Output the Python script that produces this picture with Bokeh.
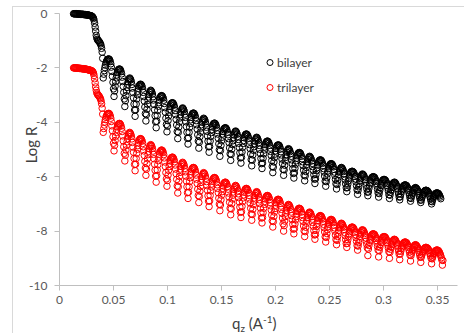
from bokeh.plotting import figure
from bokeh.models import Legend, LegendItem, FixedTicker, Range1d, Div
from bokeh.layouts import column
from bokeh.embed import file_html
from bokeh.resources import INLINE

# scattering vector q_z (A^-1)
q = [0.0130, 0.0135, 0.0140, 0.0145, 0.0150, 0.0155, 0.0160, 0.0165, 0.0170, 0.0175,
     0.0180, 0.0185, 0.0190, 0.0195, 0.0200, 0.0205, 0.0210, 0.0215, 0.0220, 0.0225,
     0.0230, 0.0235, 0.0240, 0.0245, 0.0250, 0.0255, 0.0260, 0.0265, 0.0270, 0.0275,
     0.0280, 0.0285, 0.0290, 0.0295, 0.0300, 0.0305, 0.0310, 0.0315, 0.0320, 0.0325,
     0.0330, 0.0335, 0.0340, 0.0345, 0.0350, 0.0355, 0.0360, 0.0365, 0.0370, 0.0375,
     0.0380, 0.0385, 0.0390, 0.0395, 0.0400, 0.0405, 0.0410, 0.0415, 0.0420, 0.0425,
     0.0430, 0.0435, 0.0440, 0.0445, 0.0450, 0.0455, 0.0460, 0.0465, 0.0470, 0.0475,
     0.0480, 0.0485, 0.0490, 0.0495, 0.0500, 0.0505, 0.0510, 0.0515, 0.0520, 0.0525,
     0.0530, 0.0535, 0.0540, 0.0545, 0.0550, 0.0555, 0.0560, 0.0565, 0.0570, 0.0575,
     0.0580, 0.0585, 0.0590, 0.0595, 0.0600, 0.0605, 0.0610, 0.0615, 0.0620, 0.0625,
     0.0630, 0.0635, 0.0640, 0.0645, 0.0650, 0.0655, 0.0660, 0.0665, 0.0670, 0.0675,
     0.0680, 0.0685, 0.0690, 0.0695, 0.0700, 0.0705, 0.0710, 0.0715, 0.0720, 0.0725,
     0.0730, 0.0735, 0.0740, 0.0745, 0.0750, 0.0755, 0.0760, 0.0765, 0.0770, 0.0775,
     0.0780, 0.0785, 0.0790, 0.0795, 0.0800, 0.0805, 0.0810, 0.0815, 0.0820, 0.0825,
     0.0830, 0.0835, 0.0840, 0.0845, 0.0850, 0.0855, 0.0860, 0.0865, 0.0870, 0.0875,
     0.0880, 0.0885, 0.0890, 0.0895, 0.0900, 0.0905, 0.0910, 0.0915, 0.0920, 0.0925,
     0.0930, 0.0935, 0.0940, 0.0945, 0.0950, 0.0955, 0.0960, 0.0965, 0.0970, 0.0975,
     0.0980, 0.0985, 0.0990, 0.0995, 0.1000, 0.1005, 0.1010, 0.1015, 0.1020, 0.1025,
     0.1030, 0.1035, 0.1040, 0.1045, 0.1050, 0.1055, 0.1060, 0.1065, 0.1070, 0.1075,
     0.1080, 0.1085, 0.1090, 0.1095, 0.1100, 0.1105, 0.1110, 0.1115, 0.1120, 0.1125,
     0.1130, 0.1135, 0.1140, 0.1145, 0.1150, 0.1155, 0.1160, 0.1165, 0.1170, 0.1175,
     0.1180, 0.1185, 0.1190, 0.1195, 0.1200, 0.1205, 0.1210, 0.1215, 0.1220, 0.1225,
     0.1230, 0.1235, 0.1240, 0.1245, 0.1250, 0.1255, 0.1260, 0.1265, 0.1270, 0.1275,
     0.1280, 0.1285, 0.1290, 0.1295, 0.1300, 0.1305, 0.1310, 0.1315, 0.1320, 0.1325,
     0.1330, 0.1335, 0.1340, 0.1345, 0.1350, 0.1355, 0.1360, 0.1365, 0.1370, 0.1375,
     0.1380, 0.1385, 0.1390, 0.1395, 0.1400, 0.1405, 0.1410, 0.1415, 0.1420, 0.1425,
     0.1430, 0.1435, 0.1440, 0.1445, 0.1450, 0.1455, 0.1460, 0.1465, 0.1470, 0.1475,
     0.1480, 0.1485, 0.1490, 0.1495, 0.1500, 0.1505, 0.1510, 0.1515, 0.1520, 0.1525,
     0.1530, 0.1535, 0.1540, 0.1545, 0.1550, 0.1555, 0.1560, 0.1565, 0.1570, 0.1575,
     0.1580, 0.1585, 0.1590, 0.1595, 0.1600, 0.1605, 0.1610, 0.1615, 0.1620, 0.1625,
     0.1630, 0.1635, 0.1640, 0.1645, 0.1650, 0.1655, 0.1660, 0.1665, 0.1670, 0.1675,
     0.1680, 0.1685, 0.1690, 0.1695, 0.1700, 0.1705, 0.1710, 0.1715, 0.1720, 0.1725,
     0.1730, 0.1735, 0.1740, 0.1745, 0.1750, 0.1755, 0.1760, 0.1765, 0.1770, 0.1775,
     0.1780, 0.1785, 0.1790, 0.1795, 0.1800, 0.1805, 0.1810, 0.1815, 0.1820, 0.1825,
     0.1830, 0.1835, 0.1840, 0.1845, 0.1850, 0.1855, 0.1860, 0.1865, 0.1870, 0.1875,
     0.1880, 0.1885, 0.1890, 0.1895, 0.1900, 0.1905, 0.1910, 0.1915, 0.1920, 0.1925,
     0.1930, 0.1935, 0.1940, 0.1945, 0.1950, 0.1955, 0.1960, 0.1965, 0.1970, 0.1975,
     0.1980, 0.1985, 0.1990, 0.1995, 0.2000, 0.2005, 0.2010, 0.2015, 0.2020, 0.2025,
     0.2030, 0.2035, 0.2040, 0.2045, 0.2050, 0.2055, 0.2060, 0.2065, 0.2070, 0.2075,
     0.2080, 0.2085, 0.2090, 0.2095, 0.2100, 0.2105, 0.2110, 0.2115, 0.2120, 0.2125,
     0.2130, 0.2135, 0.2140, 0.2145, 0.2150, 0.2155, 0.2160, 0.2165, 0.2170, 0.2175,
     0.2180, 0.2185, 0.2190, 0.2195, 0.2200, 0.2205, 0.2210, 0.2215, 0.2220, 0.2225,
     0.2230, 0.2235, 0.2240, 0.2245, 0.2250, 0.2255, 0.2260, 0.2265, 0.2270, 0.2275,
     0.2280, 0.2285, 0.2290, 0.2295, 0.2300, 0.2305, 0.2310, 0.2315, 0.2320, 0.2325,
     0.2330, 0.2335, 0.2340, 0.2345, 0.2350, 0.2355, 0.2360, 0.2365, 0.2370, 0.2375,
     0.2380, 0.2385, 0.2390, 0.2395, 0.2400, 0.2405, 0.2410, 0.2415, 0.2420, 0.2425,
     0.2430, 0.2435, 0.2440, 0.2445, 0.2450, 0.2455, 0.2460, 0.2465, 0.2470, 0.2475,
     0.2480, 0.2485, 0.2490, 0.2495, 0.2500, 0.2505, 0.2510, 0.2515, 0.2520, 0.2525,
     0.2530, 0.2535, 0.2540, 0.2545, 0.2550, 0.2555, 0.2560, 0.2565, 0.2570, 0.2575,
     0.2580, 0.2585, 0.2590, 0.2595, 0.2600, 0.2605, 0.2610, 0.2615, 0.2620, 0.2625,
     0.2630, 0.2635, 0.2640, 0.2645, 0.2650, 0.2655, 0.2660, 0.2665, 0.2670, 0.2675,
     0.2680, 0.2685, 0.2690, 0.2695, 0.2700, 0.2705, 0.2710, 0.2715, 0.2720, 0.2725,
     0.2730, 0.2735, 0.2740, 0.2745, 0.2750, 0.2755, 0.2760, 0.2765, 0.2770, 0.2775,
     0.2780, 0.2785, 0.2790, 0.2795, 0.2800, 0.2805, 0.2810, 0.2815, 0.2820, 0.2825,
     0.2830, 0.2835, 0.2840, 0.2845, 0.2850, 0.2855, 0.2860, 0.2865, 0.2870, 0.2875,
     0.2880, 0.2885, 0.2890, 0.2895, 0.2900, 0.2905, 0.2910, 0.2915, 0.2920, 0.2925,
     0.2930, 0.2935, 0.2940, 0.2945, 0.2950, 0.2955, 0.2960, 0.2965, 0.2970, 0.2975,
     0.2980, 0.2985, 0.2990, 0.2995, 0.3000, 0.3005, 0.3010, 0.3015, 0.3020, 0.3025,
     0.3030, 0.3035, 0.3040, 0.3045, 0.3050, 0.3055, 0.3060, 0.3065, 0.3070, 0.3075,
     0.3080, 0.3085, 0.3090, 0.3095, 0.3100, 0.3105, 0.3110, 0.3115, 0.3120, 0.3125,
     0.3130, 0.3135, 0.3140, 0.3145, 0.3150, 0.3155, 0.3160, 0.3165, 0.3170, 0.3175,
     0.3180, 0.3185, 0.3190, 0.3195, 0.3200, 0.3205, 0.3210, 0.3215, 0.3220, 0.3225,
     0.3230, 0.3235, 0.3240, 0.3245, 0.3250, 0.3255, 0.3260, 0.3265, 0.3270, 0.3275,
     0.3280, 0.3285, 0.3290, 0.3295, 0.3300, 0.3305, 0.3310, 0.3315, 0.3320, 0.3325,
     0.3330, 0.3335, 0.3340, 0.3345, 0.3350, 0.3355, 0.3360, 0.3365, 0.3370, 0.3375,
     0.3380, 0.3385, 0.3390, 0.3395, 0.3400, 0.3405, 0.3410, 0.3415, 0.3420, 0.3425,
     0.3430, 0.3435, 0.3440, 0.3445, 0.3450, 0.3455, 0.3460, 0.3465, 0.3470, 0.3475,
     0.3480, 0.3485, 0.3490, 0.3495, 0.3500, 0.3505, 0.3510, 0.3515, 0.3520, 0.3525,
     0.3530, 0.3535, 0.3540, 0.3545, 0.3550]

logR_bilayer = [
    # below the critical edge
    -0.01, -0.01, -0.01, -0.01, -0.01, -0.01, -0.01, -0.02, -0.02, -0.02,
    -0.02, -0.02, -0.02, -0.03, -0.03, -0.03, -0.03, -0.03, -0.03, -0.04,
    -0.04, -0.04, -0.04, -0.05, -0.05, -0.05, -0.05, -0.06, -0.06, -0.07,
    -0.07, -0.08, -0.08, -0.09, -0.10, -0.12, -0.14, -0.18, -0.25, -0.36,
    -0.50, -0.65, -0.80, -0.89, -0.95, -0.98, -1.00, -1.02, -1.05, -1.08,
    -1.12, -1.18, -1.28, -1.42, -1.65,
    # fringes
    -2.37, -2.23, -2.10, -1.99, -1.90, -1.82, -1.76, -1.72, -1.69, -1.68, -1.67, -1.68, -1.71, -1.77, -1.85, -1.97, -2.13, -2.31, -2.53, -2.77,
    -3.05, -2.85, -2.67, -2.51, -2.37, -2.26, -2.17, -2.11, -2.07, -2.05, -2.04, -2.05, -2.08, -2.14, -2.22, -2.34, -2.50, -2.68, -2.90, -3.14,
    -3.42, -3.21, -3.02, -2.85, -2.72, -2.60, -2.51, -2.44, -2.40, -2.37, -2.40, -2.44, -2.51, -2.61, -2.74, -2.91, -3.10, -3.33, -3.55,
    -3.78, -3.54, -3.33, -3.14, -2.99, -2.86, -2.75, -2.68, -2.64, -2.61, -2.60, -2.61, -2.64, -2.69, -2.78, -2.90, -3.05, -3.22, -3.44, -3.68,
    -3.95, -3.72, -3.52, -3.34, -3.19, -3.07, -2.97, -2.90, -2.85, -2.82, -2.85, -2.89, -2.96, -3.06, -3.18, -3.34, -3.54, -3.76, -3.98,
    -4.20, -3.96, -3.75, -3.56, -3.41, -3.28, -3.17, -3.10, -3.06, -3.03, -3.02, -3.03, -3.06, -3.11, -3.19, -3.31, -3.46, -3.63, -3.85, -4.08,
    -4.35, -4.14, -3.94, -3.77, -3.63, -3.52, -3.42, -3.36, -3.31, -3.29, -3.28, -3.29, -3.32, -3.37, -3.45, -3.57, -3.72, -3.89, -4.10, -4.34,
    -4.60, -4.37, -4.17, -3.99, -3.84, -3.72, -3.62, -3.55, -3.50, -3.47, -3.50, -3.54, -3.60, -3.70, -3.82, -3.98, -4.16, -4.37, -4.59,
    -4.80, -4.57, -4.37, -4.18, -4.04, -3.91, -3.81, -3.74, -3.69, -3.67, -3.66, -3.67, -3.70, -3.75, -3.83, -3.94, -4.09, -4.25, -4.46, -4.69,
    -4.95, -4.73, -4.53, -4.36, -4.21, -4.09, -3.99, -3.93, -3.88, -3.85, -3.88, -3.91, -3.98, -4.06, -4.18, -4.33, -4.50, -4.70, -4.90,
    -5.10, -4.89, -4.69, -4.52, -4.38, -4.27, -4.17, -4.11, -4.06, -4.04, -4.03, -4.04, -4.07, -4.12, -4.19, -4.30, -4.43, -4.59, -4.79, -5.01,
    -5.25, -5.04, -4.85, -4.68, -4.55, -4.43, -4.34, -4.27, -4.23, -4.21, -4.20, -4.21, -4.24, -4.28, -4.36, -4.46, -4.60, -4.75, -4.94, -5.16,
    -5.40, -5.18, -4.99, -4.82, -4.68, -4.56, -4.46, -4.40, -4.35, -4.32, -4.34, -4.38, -4.44, -4.52, -4.63, -4.77, -4.93, -5.12, -5.31,
    -5.50, -5.29, -5.09, -4.92, -4.78, -4.67, -4.57, -4.51, -4.46, -4.44, -4.43, -4.44, -4.47, -4.51, -4.58, -4.69, -4.82, -4.97, -5.16, -5.37,
    -5.60, -5.39, -5.20, -5.03, -4.90, -4.78, -4.69, -4.62, -4.58, -4.55, -4.57, -4.61, -4.67, -4.75, -4.85, -4.99, -5.15, -5.33, -5.52,
    -5.70, -5.50, -5.32, -5.16, -5.02, -4.91, -4.82, -4.76, -4.72, -4.70, -4.69, -4.70, -4.73, -4.77, -4.84, -4.95, -5.07, -5.22, -5.41, -5.62,
    -5.85, -5.65, -5.46, -5.30, -5.17, -5.05, -4.96, -4.90, -4.86, -4.84, -4.83, -4.84, -4.86, -4.91, -4.98, -5.08, -5.20, -5.35, -5.52, -5.73,
    -5.95, -5.75, -5.58, -5.42, -5.29, -5.19, -5.10, -5.04, -5.00, -4.97, -4.99, -5.02, -5.08, -5.15, -5.25, -5.38, -5.53, -5.70, -5.88,
    -6.05, -5.86, -5.69, -5.54, -5.42, -5.32, -5.23, -5.18, -5.14, -5.12, -5.11, -5.12, -5.14, -5.18, -5.25, -5.34, -5.45, -5.59, -5.76, -5.94,
    -6.15, -5.97, -5.81, -5.66, -5.55, -5.45, -5.37, -5.31, -5.28, -5.25, -5.27, -5.30, -5.35, -5.42, -5.51, -5.63, -5.77, -5.93, -6.09,
    -6.25, -6.08, -5.92, -5.78, -5.67, -5.57, -5.49, -5.44, -5.41, -5.39, -5.38, -5.39, -5.41, -5.45, -5.51, -5.59, -5.70, -5.83, -5.98, -6.16,
    -6.35, -6.18, -6.04, -5.90, -5.79, -5.70, -5.63, -5.58, -5.55, -5.53, -5.52, -5.53, -5.55, -5.59, -5.64, -5.73, -5.83, -5.95, -6.10, -6.26,
    -6.45, -6.29, -6.15, -6.02, -5.92, -5.83, -5.76, -5.72, -5.68, -5.66, -5.68, -5.71, -5.75, -5.81, -5.89, -6.00, -6.12, -6.27, -6.41,
    -6.55, -6.40, -6.27, -6.15, -6.05, -5.97, -5.90, -5.85, -5.82, -5.81, -5.80, -5.81, -5.83, -5.86, -5.91, -5.99, -6.08, -6.19, -6.33, -6.48,
    -6.65, -6.50, -6.37, -6.25, -6.15, -6.07, -6.00, -5.95, -5.92, -5.90, -5.92, -5.94, -5.98, -6.04, -6.11, -6.20, -6.32, -6.44, -6.57,
    -6.70, -6.56, -6.43, -6.32, -6.23, -6.15, -6.09, -6.05, -6.02, -6.01, -6.00, -6.01, -6.02, -6.05, -6.10, -6.17, -6.25, -6.35, -6.47, -6.60,
    -6.75, -6.62, -6.50, -6.40, -6.32, -6.24, -6.19, -6.15, -6.12, -6.11, -6.10, -6.11, -6.12, -6.15, -6.19, -6.25, -6.33, -6.42, -6.53, -6.66,
    -6.80, -6.68, -6.57, -6.48, -6.40, -6.33, -6.28, -6.24, -6.22, -6.20, -6.21, -6.23, -6.27, -6.31, -6.37, -6.45, -6.54, -6.64, -6.75,
    -6.85, -6.74, -6.64, -6.55, -6.48, -6.42, -6.37, -6.34, -6.32, -6.31, -6.30, -6.31, -6.32, -6.34, -6.38, -6.43, -6.50, -6.58, -6.67, -6.78,
    -6.90, -6.80, -6.71, -6.63, -6.57, -6.51, -6.47, -6.44, -6.42, -6.40, -6.41, -6.43, -6.46, -6.49, -6.54, -6.61, -6.69, -6.77, -6.86,
    -6.95, -6.86, -6.78, -6.71, -6.65, -6.60, -6.56, -6.53, -6.51, -6.50, -6.50, -6.51, -6.52, -6.54, -6.57, -6.61, -6.67, -6.73, -6.81, -6.90,
    -7.00, -6.92, -6.85, -6.78, -6.73, -6.69, -6.65, -6.63, -6.61, -6.60, -6.60, -6.60, -6.61, -6.63, -6.66, -6.70, -6.75, -6.81]

logR_trilayer = [
    # below the critical edge
    -2.00, -2.00, -2.00, -2.00, -2.00, -2.00, -2.01, -2.01, -2.01, -2.01,
    -2.01, -2.02, -2.02, -2.02, -2.02, -2.03, -2.03, -2.03, -2.03, -2.04,
    -2.04, -2.04, -2.04, -2.05, -2.05, -2.06, -2.06, -2.07, -2.07, -2.08,
    -2.08, -2.09, -2.09, -2.10, -2.11, -2.13, -2.15, -2.20, -2.28, -2.40,
    -2.55, -2.70, -2.82, -2.91, -2.96, -2.99, -3.01, -3.03, -3.06, -3.10,
    -3.14, -3.21, -3.32, -3.48, -3.70,
    # fringes
    -4.37, -4.23, -4.10, -3.99, -3.90, -3.82, -3.76, -3.72, -3.69, -3.68, -3.67, -3.68, -3.71, -3.77, -3.85, -3.97, -4.13, -4.31, -4.53, -4.77,
    -5.05, -4.85, -4.67, -4.51, -4.37, -4.26, -4.17, -4.11, -4.07, -4.05, -4.04, -4.05, -4.08, -4.14, -4.22, -4.34, -4.50, -4.68, -4.90, -5.14,
    -5.42, -5.21, -5.02, -4.85, -4.72, -4.60, -4.51, -4.44, -4.40, -4.37, -4.40, -4.44, -4.51, -4.61, -4.74, -4.91, -5.10, -5.33, -5.55,
    -5.78, -5.54, -5.33, -5.14, -4.99, -4.86, -4.75, -4.68, -4.64, -4.61, -4.60, -4.61, -4.64, -4.69, -4.78, -4.90, -5.05, -5.22, -5.44, -5.68,
    -5.95, -5.72, -5.52, -5.34, -5.19, -5.07, -4.97, -4.90, -4.85, -4.82, -4.85, -4.89, -4.96, -5.06, -5.18, -5.34, -5.54, -5.76, -5.98,
    -6.20, -5.96, -5.75, -5.56, -5.41, -5.28, -5.17, -5.10, -5.06, -5.03, -5.02, -5.03, -5.06, -5.11, -5.19, -5.31, -5.46, -5.63, -5.85, -6.08,
    -6.35, -6.14, -5.94, -5.77, -5.63, -5.52, -5.42, -5.36, -5.31, -5.29, -5.28, -5.29, -5.32, -5.37, -5.45, -5.57, -5.72, -5.89, -6.10, -6.34,
    -6.60, -6.37, -6.17, -5.99, -5.84, -5.72, -5.62, -5.55, -5.50, -5.47, -5.50, -5.54, -5.60, -5.70, -5.82, -5.98, -6.16, -6.37, -6.59,
    -6.80, -6.57, -6.37, -6.18, -6.04, -5.91, -5.81, -5.74, -5.69, -5.67, -5.66, -5.67, -5.70, -5.75, -5.83, -5.94, -6.09, -6.25, -6.46, -6.69,
    -6.95, -6.73, -6.53, -6.36, -6.21, -6.09, -5.99, -5.93, -5.88, -5.85, -5.88, -5.91, -5.98, -6.06, -6.18, -6.33, -6.50, -6.70, -6.90,
    -7.10, -6.89, -6.69, -6.52, -6.38, -6.27, -6.17, -6.11, -6.06, -6.04, -6.03, -6.04, -6.07, -6.12, -6.19, -6.30, -6.43, -6.59, -6.79, -7.01,
    -7.25, -7.04, -6.85, -6.68, -6.55, -6.43, -6.34, -6.27, -6.23, -6.21, -6.20, -6.21, -6.24, -6.28, -6.36, -6.46, -6.60, -6.75, -6.94, -7.16,
    -7.40, -7.18, -6.99, -6.82, -6.68, -6.56, -6.46, -6.40, -6.35, -6.32, -6.34, -6.38, -6.44, -6.52, -6.63, -6.77, -6.93, -7.12, -7.31,
    -7.50, -7.29, -7.09, -6.92, -6.78, -6.67, -6.57, -6.51, -6.46, -6.44, -6.43, -6.44, -6.47, -6.51, -6.58, -6.69, -6.82, -6.97, -7.16, -7.37,
    -7.60, -7.39, -7.20, -7.03, -6.90, -6.78, -6.69, -6.62, -6.58, -6.55, -6.57, -6.61, -6.67, -6.75, -6.85, -6.99, -7.15, -7.33, -7.52,
    -7.70, -7.50, -7.32, -7.16, -7.02, -6.91, -6.82, -6.76, -6.72, -6.70, -6.69, -6.70, -6.73, -6.77, -6.84, -6.95, -7.07, -7.22, -7.41, -7.62,
    -7.85, -7.65, -7.46, -7.30, -7.17, -7.05, -6.96, -6.90, -6.86, -6.84, -6.83, -6.84, -6.86, -6.91, -6.98, -7.08, -7.20, -7.35, -7.52, -7.73,
    -8.00, -7.80, -7.63, -7.47, -7.34, -7.24, -7.15, -7.09, -7.05, -7.02, -7.04, -7.07, -7.13, -7.20, -7.30, -7.43, -7.58, -7.75, -7.93,
    -8.10, -7.91, -7.74, -7.59, -7.47, -7.37, -7.28, -7.23, -7.19, -7.17, -7.16, -7.17, -7.19, -7.23, -7.30, -7.39, -7.50, -7.64, -7.81, -7.99,
    -8.20, -8.02, -7.86, -7.71, -7.60, -7.50, -7.42, -7.36, -7.33, -7.30, -7.32, -7.35, -7.40, -7.47, -7.56, -7.68, -7.82, -7.98, -8.14,
    -8.30, -8.13, -7.97, -7.83, -7.72, -7.62, -7.54, -7.49, -7.46, -7.44, -7.43, -7.44, -7.46, -7.50, -7.56, -7.64, -7.75, -7.88, -8.03, -8.21,
    -8.40, -8.23, -8.09, -7.95, -7.84, -7.75, -7.68, -7.63, -7.60, -7.58, -7.57, -7.58, -7.60, -7.64, -7.69, -7.78, -7.88, -8.00, -8.15, -8.31,
    -8.50, -8.34, -8.20, -8.07, -7.97, -7.88, -7.81, -7.77, -7.73, -7.71, -7.73, -7.76, -7.80, -7.86, -7.94, -8.05, -8.17, -8.32, -8.46,
    -8.60, -8.45, -8.32, -8.20, -8.10, -8.02, -7.95, -7.90, -7.87, -7.86, -7.85, -7.86, -7.88, -7.91, -7.96, -8.04, -8.13, -8.24, -8.38, -8.53,
    -8.70, -8.55, -8.42, -8.30, -8.20, -8.12, -8.05, -8.00, -7.97, -7.95, -7.97, -7.99, -8.03, -8.09, -8.16, -8.25, -8.37, -8.49, -8.62,
    -8.90, -8.66, -8.53, -8.42, -8.33, -8.25, -8.19, -8.15, -8.12, -8.11, -8.10, -8.11, -8.12, -8.15, -8.20, -8.27, -8.35, -8.45, -8.57, -8.70,
    -8.95, -8.72, -8.60, -8.50, -8.42, -8.34, -8.29, -8.25, -8.22, -8.21, -8.20, -8.21, -8.22, -8.25, -8.29, -8.35, -8.43, -8.52, -8.63, -8.76,
    -9.00, -8.78, -8.67, -8.58, -8.50, -8.43, -8.38, -8.34, -8.32, -8.30, -8.31, -8.33, -8.37, -8.41, -8.47, -8.55, -8.64, -8.74, -8.85,
    -9.05, -8.84, -8.74, -8.65, -8.58, -8.52, -8.47, -8.44, -8.42, -8.41, -8.40, -8.41, -8.42, -8.44, -8.48, -8.53, -8.60, -8.68, -8.77, -8.88,
    -9.10, -8.90, -8.81, -8.73, -8.67, -8.61, -8.57, -8.54, -8.52, -8.50, -8.51, -8.53, -8.56, -8.59, -8.64, -8.71, -8.79, -8.87, -8.96,
    -9.15, -8.96, -8.88, -8.81, -8.75, -8.70, -8.66, -8.63, -8.61, -8.60, -8.60, -8.61, -8.62, -8.64, -8.67, -8.71, -8.77, -8.83, -8.91, -9.00,
    -9.20, -9.02, -8.95, -8.88, -8.83, -8.79, -8.75, -8.73, -8.71, -8.70, -8.70, -8.70, -8.71, -8.73, -8.76, -8.80, -8.85, -8.91, -8.98, -9.06,
    -9.25, -9.08]

series_names = ["bilayer", "trilayer"]
series_colors = ["black", "red"]
x_ticks = [0, 0.05, 0.1, 0.15, 0.2, 0.25, 0.3, 0.35]
x_tick_labels = ["0", "0.05", "0.1", "0.15", "0.2", "0.25", "0.3", "0.35"]
y_ticks = [0, -2, -4, -6, -8, -10]
y_tick_labels = ["0", "-2", "-4", "-6", "-8", "-10"]

FONT = "Lato"
AXIS_GREY = "#bfbfbf"
TICK_TEXT = "#595959"
TITLE_TEXT = "#404040"

p = figure(width=464, height=314, output_backend="svg", toolbar_location=None,
           x_range=Range1d(0, 0.3685), y_range=Range1d(-10, 0.331),
           min_border_left=59, min_border_right=7, min_border_top=4,
           min_border_bottom=29)
p.outline_line_color = None
p.background_fill_color = "white"
p.border_fill_color = "white"
p.xgrid.visible = False
p.ygrid.visible = False

r_tri = p.scatter(q[:len(logR_trilayer)], logR_trilayer, marker="circle", size=6.5,
                  fill_color=None, line_color=series_colors[1], line_width=1)
r_bi = p.scatter(q[:len(logR_bilayer)], logR_bilayer, marker="circle", size=6.5,
                 fill_color=None, line_color=series_colors[0], line_width=1)

for ax in (p.xaxis[0], p.yaxis[0]):
    ax.axis_line_color = AXIS_GREY
    ax.major_tick_line_color = AXIS_GREY
    ax.minor_tick_line_color = None
    ax.major_tick_in = 0
    ax.major_tick_out = 5
    ax.major_label_text_font = FONT
    ax.major_label_text_font_size = "12px"
    ax.major_label_text_color = TICK_TEXT

p.xaxis.ticker = FixedTicker(ticks=x_ticks)
p.xaxis.major_label_overrides = {t: l for t, l in zip(x_ticks, x_tick_labels)}
p.xaxis.major_label_standoff = 5
p.xaxis.axis_label = None

p.yaxis.ticker = FixedTicker(ticks=y_ticks)
p.yaxis.major_label_overrides = {t: l for t, l in zip(y_ticks, y_tick_labels)}
p.yaxis.major_label_standoff = 7
p.yaxis.bounds = (-10, 0)
p.yaxis.axis_label = "Log R"
p.yaxis.axis_label_text_font = FONT
p.yaxis.axis_label_text_font_size = "15px"
p.yaxis.axis_label_text_font_style = "normal"
p.yaxis.axis_label_text_color = TITLE_TEXT
p.yaxis.axis_label_standoff = -14

legend = Legend(items=[LegendItem(label=series_names[0], renderers=[r_bi]),
                       LegendItem(label=series_names[1], renderers=[r_tri])],
                location=(203, 188), orientation="vertical",
                glyph_width=15, glyph_height=20, label_height=20, spacing=5,
                label_standoff=0, padding=0, margin=0,
                border_line_color=None, background_fill_alpha=0,
                label_text_font=FONT, label_text_font_size="12px",
                label_text_color=TITLE_TEXT)
p.add_layout(legend)

x_title = Div(
    text=('<div style="margin-left:232px;font-family:Lato;font-size:15px;'
          'line-height:19px;color:#404040;white-space:nowrap;">'
          'q<span style="font-size:10px;position:relative;top:3px;">z</span>'
          ' (A<span style="font-size:10px;position:relative;top:-6px;">-1</span>)'
          '</div>'
          '<div style="position:fixed;left:12px;top:6px;right:0;bottom:0;'
          'border-left:1px solid #d9d9d9;border-top:1px solid #d9d9d9;'
          'pointer-events:none;"></div>'),
    width=464, height=19, margin=0)

layout = column(p, x_title, spacing=0)
open("out.html", "w").write(file_html(layout, INLINE))
